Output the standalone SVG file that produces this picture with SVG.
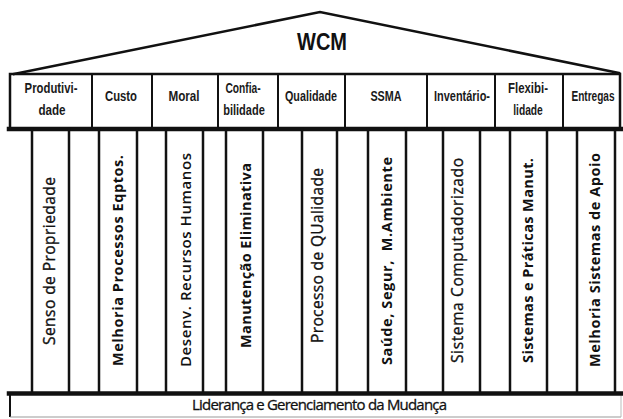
<svg xmlns="http://www.w3.org/2000/svg" width="623" height="419" viewBox="0 0 623 419">
  <style>
    .ln{stroke:#111;fill:none;stroke-linecap:square}
    .thin{stroke-width:2}
    .mid{stroke-width:2.5}
    .thick{stroke-width:4.5}
    .hd{font-family:"Liberation Sans Narrow","Liberation Sans",Arial,sans-serif;font-weight:bold;font-size:14px;fill:#1a1a1a;text-anchor:middle}
    .pl{font-family:"Open Sans","Liberation Sans",Arial,sans-serif;font-size:15.5px;fill:#111;stroke:#111;stroke-width:0.35;text-anchor:middle}
    .bd{font-weight:bold;font-size:14.5px;stroke:none}
    .sb{font-weight:600;font-size:15px;stroke:none}
    .title{font-family:"Liberation Sans",Arial,sans-serif;font-weight:bold;font-size:23px;fill:#111;text-anchor:middle}
    .base{font-family:"Open Sans","Liberation Sans",Arial,sans-serif;font-size:15px;fill:#111;stroke:#111;stroke-width:0.3;text-anchor:middle}
  </style>

  <rect width="623" height="419" fill="#fff"/>

  <!-- roof / pediment -->
  <g id="roof">
    <polyline class="ln mid" points="14,74 320,12 619,73"/>
    <text class="title" x="322" y="50" textLength="50" lengthAdjust="spacingAndGlyphs">WCM</text>
  </g>

  <!-- entablature with the nine results -->
  <g id="header">
    <rect class="ln mid" x="10" y="74" width="610" height="55" stroke-width="2.8"/>
    <line class="ln thick" x1="9" y1="129" x2="621" y2="129"/>
    <g class="ln thin">
      <line x1="92" y1="74" x2="92" y2="129"/>
      <line x1="152" y1="74" x2="152" y2="129"/>
      <line x1="218" y1="74" x2="218" y2="129"/>
      <line x1="278" y1="74" x2="278" y2="129"/>
      <line x1="345" y1="74" x2="345" y2="129"/>
      <line x1="427" y1="74" x2="427" y2="129"/>
      <line x1="495" y1="74" x2="495" y2="129"/>
      <line x1="563" y1="74" x2="563" y2="129"/>
    </g>
  </g>

  <!-- header labels: condensed bold, drawn at 80% horizontal scale -->
  <g id="h-produtividade">
    <text class="hd" transform="translate(51,93) scale(0.8 1)" textLength="66" lengthAdjust="spacingAndGlyphs">Produtivi-</text>
    <text class="hd" transform="translate(52,115) scale(0.8 1)" textLength="34" lengthAdjust="spacingAndGlyphs">dade</text>
  </g>
  <g id="h-custo">
    <text class="hd" transform="translate(121,101) scale(0.8 1)" textLength="40" lengthAdjust="spacingAndGlyphs">Custo</text>
  </g>
  <g id="h-moral">
    <text class="hd" transform="translate(184,101) scale(0.8 1)" textLength="39" lengthAdjust="spacingAndGlyphs">Moral</text>
  </g>
  <g id="h-confiabilidade">
    <text class="hd" transform="translate(243,93) scale(0.8 1)" textLength="44" lengthAdjust="spacingAndGlyphs">Confia-</text>
    <text class="hd" transform="translate(244,115) scale(0.8 1)" textLength="52" lengthAdjust="spacingAndGlyphs">bilidade</text>
  </g>
  <g id="h-qualidade">
    <text class="hd" transform="translate(311,101) scale(0.8 1)" textLength="65" lengthAdjust="spacingAndGlyphs">Qualidade</text>
  </g>
  <g id="h-ssma">
    <text class="hd" transform="translate(386,101) scale(0.8 1)" textLength="39" lengthAdjust="spacingAndGlyphs">SSMA</text>
  </g>
  <g id="h-inventario">
    <text class="hd" transform="translate(462,101) scale(0.8 1)" textLength="70" lengthAdjust="spacingAndGlyphs">Inventário-</text>
  </g>
  <g id="h-flexibilidade">
    <text class="hd" transform="translate(528,93) scale(0.8 1)" textLength="50" lengthAdjust="spacingAndGlyphs">Flexibi-</text>
    <text class="hd" transform="translate(528,115) scale(0.8 1)" textLength="37" lengthAdjust="spacingAndGlyphs">lidade</text>
  </g>
  <g id="h-entregas">
    <text class="hd" transform="translate(593,101) scale(0.8 1)" textLength="54" lengthAdjust="spacingAndGlyphs">Entregas</text>
  </g>

  <!-- nine pillars -->
  <g id="p-senso">
    <line class="ln mid" x1="32" y1="129" x2="32" y2="392"/>
    <line class="ln mid" x1="69" y1="129" x2="69" y2="392"/>
    <text class="pl" transform="translate(55,261) rotate(-90)" textLength="168">Senso de Propriedade</text>
  </g>
  <g id="p-melhoria-processos">
    <line class="ln mid" x1="99" y1="129" x2="99" y2="392"/>
    <line class="ln mid" x1="137" y1="129" x2="137" y2="392"/>
    <text class="pl bd" transform="translate(122.5,260.5) rotate(-90)" textLength="211">Melhoria Processos Eqptos.</text>
  </g>
  <g id="p-desenv">
    <line class="ln mid" x1="166" y1="129" x2="166" y2="392"/>
    <line class="ln mid" x1="203" y1="129" x2="203" y2="392"/>
    <text class="pl sb" transform="translate(190.5,260) rotate(-90)" textLength="214">Desenv. Recursos Humanos</text>
  </g>
  <g id="p-manutencao">
    <line class="ln mid" x1="226" y1="129" x2="226" y2="392"/>
    <line class="ln mid" x1="263" y1="129" x2="263" y2="392"/>
    <text class="pl bd" transform="translate(251,255.5) rotate(-90)" textLength="185">Manutenção Eliminativa</text>
  </g>
  <g id="p-processo-qualidade">
    <line class="ln mid" x1="302" y1="129" x2="302" y2="392"/>
    <line class="ln mid" x1="337" y1="129" x2="337" y2="392"/>
    <text class="pl" transform="translate(322.5,255.5) rotate(-90)" textLength="175">Processo de QUalidade</text>
  </g>
  <g id="p-saude">
    <line class="ln mid" x1="368" y1="129" x2="368" y2="392"/>
    <line class="ln mid" x1="406" y1="129" x2="406" y2="392"/>
    <text class="pl bd" transform="translate(392,261) rotate(-90)" textLength="208" xml:space="preserve">Saúde, Segur,  M.Ambiente</text>
  </g>
  <g id="p-sistema-comp">
    <line class="ln mid" x1="443" y1="129" x2="443" y2="392"/>
    <line class="ln mid" x1="480" y1="129" x2="480" y2="392"/>
    <text class="pl" transform="translate(463,260.5) rotate(-90)" textLength="205">Sistema Computadorizado</text>
  </g>
  <g id="p-sistemas-praticas">
    <line class="ln mid" x1="510" y1="129" x2="510" y2="392"/>
    <line class="ln mid" x1="547" y1="129" x2="547" y2="392"/>
    <text class="pl bd" transform="translate(532.5,260.5) rotate(-90)" textLength="205">Sistemas e Práticas Manut.</text>
  </g>
  <g id="p-melhoria-apoio">
    <line class="ln mid" x1="577" y1="129" x2="577" y2="392"/>
    <line class="ln mid" x1="615" y1="129" x2="615" y2="392"/>
    <text class="pl bd" transform="translate(600,260) rotate(-90)" textLength="214">Melhoria Sistemas de Apoio</text>
  </g>

  <!-- foundation -->
  <g id="base">
    <line x1="10" y1="393" x2="10" y2="417" stroke="#111" stroke-width="2"/>
    <line x1="10" y1="417" x2="621" y2="417" stroke="#999" stroke-width="1.2"/>
    <line x1="621" y1="393" x2="621" y2="417" stroke="#bbb" stroke-width="1"/>
    <line class="ln thick" x1="9" y1="393.5" x2="623" y2="393.5"/>
    <text class="base" x="319.5" y="410" textLength="255">Liderança e Gerenciamento da Mudança</text>
  </g>

  <!-- no connectors in this figure -->
  <g id="connectors"/>
</svg>
